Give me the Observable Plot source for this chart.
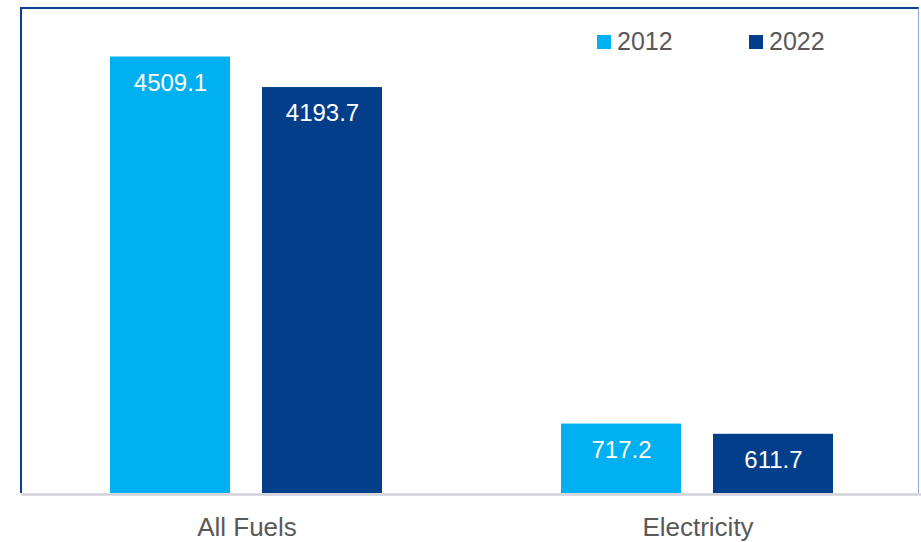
<!DOCTYPE html>
<html>
<head>
<meta charset="utf-8">
<script src="https://cdn.jsdelivr.net/npm/d3@7"></script>
<script src="https://cdn.jsdelivr.net/npm/@observablehq/plot@0.6"></script>
<style>
  html, body { margin: 0; padding: 0; background: #fff; }
  #wrap { position: relative; width: 921px; height: 542px; font-family: "Liberation Sans", Arial, sans-serif; overflow: hidden; }
  #border { position: absolute; left: 20px; top: 7px; width: 899px; height: 486px;
    border-top: 2px solid #0b3f93; border-left: 2px solid #0b3f93; border-right: 1px solid #8aa4d6; box-sizing: border-box; pointer-events: none; }
  #legend { position: absolute; left: 597px; top: 27px; display: flex; gap: 0; font-size: 25px; color: #595959; }
  .item { display: flex; align-items: center; width: 152px; }
  .sw { width: 14px; height: 14px; margin-right: 6px; }
</style>
</head>
<body>
<div id="wrap">
  <div id="chart"></div>
  <div id="border"></div>
  <div id="legend"></div>
</div>
<script>
const categories = ["All Fuels", "Electricity"];
const years = ["2012", "2022"];
const values2012 = [4509.1, 717.2];
const values2022 = [4193.7, 611.7];
const colors = ["#00b0f0", "#033e8b"];

const data = [];
categories.forEach((c, i) => {
  data.push({category: c, year: years[0], value: values2012[i]});
  data.push({category: c, year: years[1], value: values2022[i]});
});

const chart = Plot.plot({
  width: 921,
  height: 542,
  marginTop: 9,
  marginBottom: 49,
  marginLeft: 20,
  marginRight: -2,
  style: {fontFamily: "Liberation Sans, Arial, sans-serif", background: "#fff", overflow: "hidden"},
  fx: {domain: categories, padding: 0, label: null, axis: null},
  x: {domain: years, paddingInner: 0.2105, paddingOuter: 0.587, axis: null},
  y: {domain: [0, 5000], axis: null},
  color: {domain: years, range: colors},
  marks: [
    Plot.barY(data, {fx: "category", x: "year", y: "value", fill: "year"}),
    Plot.ruleY([0], {stroke: "#d0d1d8", strokeWidth: 2.5, dy: 1}),
    Plot.text(data, {fx: "category", x: "year", y: "value", text: d => d.value.toFixed(1),
      fill: "#fff", fontSize: 24, dy: 26, lineAnchor: "middle"}),
    Plot.axisFx({anchor: "bottom", tickSize: 0, tickPadding: 24, fontSize: 26, color: "#595959", label: null})
  ]
});
document.getElementById("chart").appendChild(chart);

const legend = document.getElementById("legend");
years.forEach((y, i) => {
  const it = document.createElement("div");
  it.className = "item";
  const sw = document.createElement("div");
  sw.className = "sw";
  sw.style.background = colors[i];
  const t = document.createElement("span");
  t.textContent = y;
  it.appendChild(sw); it.appendChild(t);
  legend.appendChild(it);
});
</script>
</body>
</html>
